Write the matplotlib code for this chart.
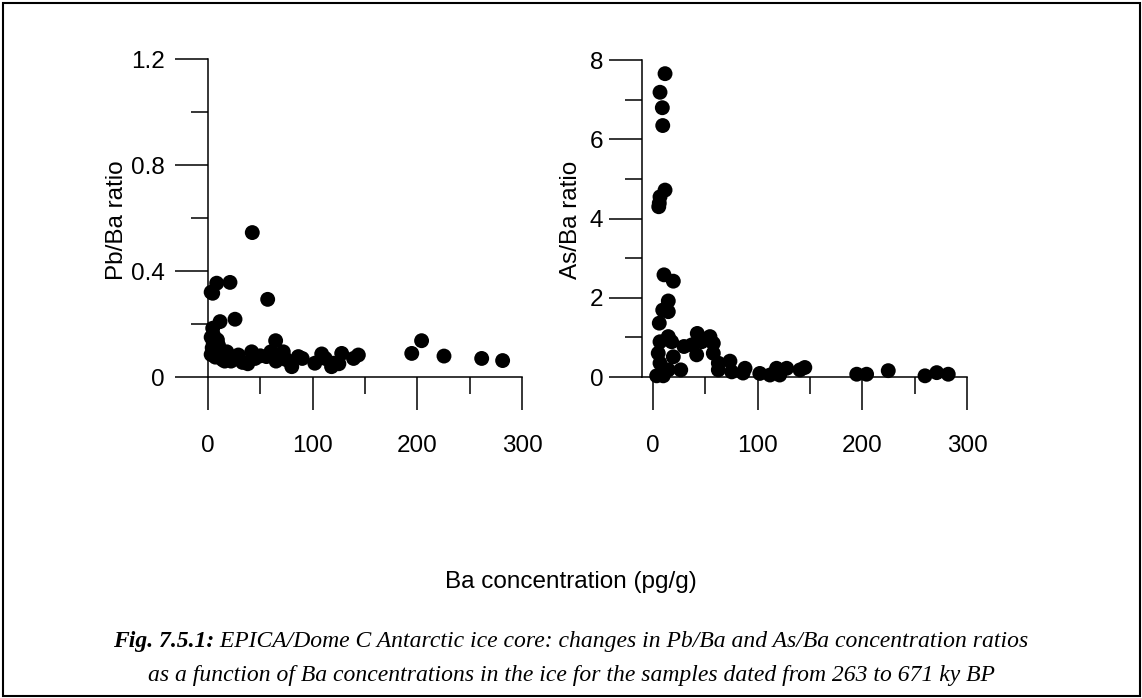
import matplotlib
matplotlib.use("Agg")
import matplotlib.pyplot as plt
from matplotlib.ticker import FixedLocator
from matplotlib.patches import Rectangle

# ---- data ----
ba_pb = [42.3, 8.3, 21, 4.5, 3, 57, 11.5, 25.8, 4.5, 64.6,
         3, 5, 4, 6, 3, 8, 10, 12, 7, 15, 18, 14, 9, 5, 16, 25,
         22, 29, 33, 41.7, 45, 38, 50, 55.8, 60, 65, 71.9, 75, 80, 86.3, 90,
         102, 108.6, 112, 118, 119.7, 125, 127.7, 139, 143.6,
         194.6, 204, 225.4, 261.4, 281.4]
pb_ba = [0.545, 0.354, 0.357, 0.316, 0.32, 0.293, 0.209, 0.218, 0.184, 0.137,
         0.15, 0.13, 0.11, 0.10, 0.085, 0.09, 0.12, 0.10, 0.075, 0.08, 0.095, 0.065, 0.14, 0.16, 0.06, 0.07,
         0.06, 0.083, 0.055, 0.095, 0.07, 0.05, 0.08, 0.077, 0.095, 0.06, 0.095, 0.065, 0.039, 0.077, 0.07,
         0.052, 0.087, 0.07, 0.039, 0.052, 0.05, 0.089, 0.07, 0.083,
         0.089, 0.137, 0.079, 0.07, 0.062]

ba_as = [11.5, 6.7, 8.9, 9.3, 11.5, 6.7, 6, 5.5,
         10.5, 19.4, 14.6, 9.3, 14.6, 6, 14.6, 6.7, 17.8, 29.6, 37, 42.3, 46.5, 54.4, 57.6,
         41.7, 57.6, 5, 19.4, 6.7, 14.6, 26.5, 3.5, 9.8, 62.4, 62.4, 73.5, 75.2, 87.9, 86,
         102, 111.7, 118, 121, 127.7, 140.4, 145,
         194.6, 204, 224.7, 259.8, 271, 282]
as_ba = [7.66, 7.19, 6.8, 6.35, 4.72, 4.55, 4.39, 4.3,
         2.58, 2.42, 1.92, 1.69, 1.65, 1.36, 1.02, 0.89, 0.89, 0.77, 0.81, 1.1, 0.89, 1.02, 0.85,
         0.56, 0.6, 0.6, 0.51, 0.35, 0.18, 0.18, 0.03, 0.03, 0.35, 0.18, 0.4, 0.13, 0.22, 0.1,
         0.09, 0.05, 0.22, 0.05, 0.22, 0.18, 0.24,
         0.07, 0.07, 0.16, 0.03, 0.11, 0.07]

x_ticks = [0, 100, 200, 300]
x_minor = [50, 150, 250]
pb_ticks = [0, 0.4, 0.8, 1.2]
pb_minor = [0.2, 0.6, 1.0]
pb_labels = ["0", "0.4", "0.8", "1.2"]
as_ticks = [0, 2, 4, 6, 8]
as_minor = [1, 3, 5, 7]

FONT = "Liberation Sans"
FS = 17.5
W, H = 1142, 698
fig = plt.figure(figsize=(W / 100, H / 100), dpi=100)
fig.patch.set_facecolor("white")


def ax_at(x0, x1, y0, y1):
    return fig.add_axes([x0 / W, 1 - y1 / H, (x1 - x0) / W, (y1 - y0) / H])


MAJ = 33 * 0.72
MIN = 17 * 0.72


def style(ax, ybound, xbound, ypos, yminor, ylabpad, xlabpad):
    for s in ["top", "right"]:
        ax.spines[s].set_visible(False)
    ax.spines["left"].set_position(("data", ypos))
    ax.spines["bottom"].set_position(("data", 0))
    ax.spines["left"].set_bounds(*ybound)
    ax.spines["bottom"].set_bounds(*xbound)
    for s in ["left", "bottom"]:
        ax.spines[s].set_linewidth(1.1)
    ax.xaxis.set_minor_locator(FixedLocator(x_minor))
    ax.yaxis.set_minor_locator(FixedLocator(yminor))
    ax.tick_params(which="major", direction="out", length=MAJ, width=1.1)
    ax.tick_params(which="minor", direction="out", length=MIN, width=1.1)
    ax.tick_params(axis="x", which="major", pad=xlabpad)
    ax.tick_params(axis="y", which="major", pad=ylabpad)
    for lab in ax.get_xticklabels() + ax.get_yticklabels():
        lab.set_fontfamily(FONT)
        lab.set_fontsize(FS)
    ax.patch.set_alpha(0)


# left panel: x px = 208 + 1.047*x ; y px = 377 - 265*y
axL = ax_at(208 - 1.047 * 40, 208 + 1.047 * 310, 377 - 265 * 1.25, 377 + 265 * 0.15)
axL.set_xlim(-40, 310)
axL.set_ylim(-0.15, 1.25)
axL.scatter(ba_pb, pb_ba, s=115, color="black", edgecolors="none", zorder=3, clip_on=False)
axL.set_xticks(x_ticks)
axL.set_yticks(pb_ticks)
axL.set_yticklabels(pb_labels)
style(axL, (0, 1.2), (0, 300), 0, pb_minor, 7.5, 18)

# right panel: x px = 653 + 1.047*x ; y px = 377 - 39.6*y
axR = ax_at(653 - 1.047 * 45, 653 + 1.047 * 310, 377 - 39.6 * 8.3, 377 + 39.6 * 1.0)
axR.set_xlim(-45, 310)
axR.set_ylim(-1.0, 8.3)
axR.scatter(ba_as, as_ba, s=115, color="black", edgecolors="none", zorder=3, clip_on=False)
axR.set_xticks(x_ticks)
axR.set_yticks(as_ticks)
style(axR, (0, 8), (-10.5, 300), -10.5, as_minor, 4, 18)

fig.text(117 / W, 1 - 220 / H, "Pb/Ba ratio", rotation=90, ha="center", va="center",
         fontfamily=FONT, fontsize=FS)
fig.text(571 / W, 1 - 220 / H, "As/Ba ratio", rotation=90, ha="center", va="center",
         fontfamily=FONT, fontsize=FS)
fig.text(571 / W, 1 - 582 / H, "Ba concentration (pg/g)", ha="center", va="center",
         fontfamily=FONT, fontsize=FS)

# caption
SERIF = "Liberation Serif"
CAP = 17
renderer = fig.canvas.get_renderer()
y1 = 1 - 641 / H
y2 = 1 - 676 / H
bold = fig.text(0, y1, "Fig. 7.5.1:", fontfamily=SERIF, fontsize=CAP, fontweight="bold",
                fontstyle="italic", va="center", ha="left")
rest = fig.text(0, y1, " EPICA/Dome C Antarctic ice core: changes in Pb/Ba and As/Ba concentration ratios",
                fontfamily=SERIF, fontsize=CAP, fontstyle="italic", va="center", ha="left")
wb = bold.get_window_extent(renderer).width
wr = rest.get_window_extent(renderer).width
x_start = (W - wb - wr) / 2
bold.set_x(x_start / W)
rest.set_x((x_start + wb) / W)
fig.text(0.5, y2, "as a function of Ba concentrations in the ice for the samples dated from 263 to 671 ky BP",
         fontfamily=SERIF, fontsize=CAP, fontstyle="italic", va="center", ha="center")

# outer frame
fig.patches.append(Rectangle((2.5 / W, 2.5 / H), (W - 5) / W, (H - 5) / H, transform=fig.transFigure,
                             fill=False, edgecolor="black", linewidth=1.5))

fig.savefig("out.png", dpi=100)
